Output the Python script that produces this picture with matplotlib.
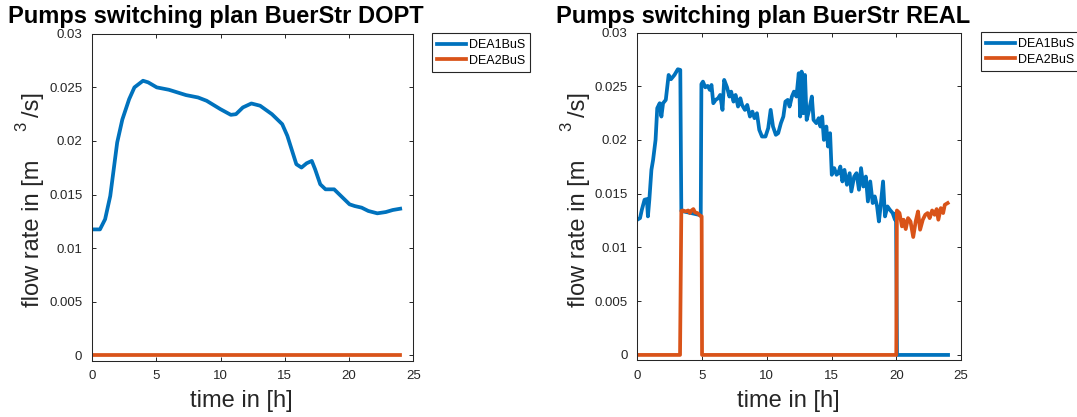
import matplotlib
matplotlib.use('Agg')
from matplotlib import pyplot as plt

plt.rcParams['font.family'] = ['Liberation Sans', 'DejaVu Sans']

W, H = 1077, 417
BLUE = '#0072BD'
ORANGE = '#D95319'
DARK = '#262626'

# optimised plan (DOPT)
t_dopt = [0, 0.62, 1.02, 1.42, 1.96, 2.36, 2.89, 3.3, 3.97, 4.37, 5.04, 5.98, 7.32,
          8.25, 8.92, 9.99, 10.8, 11.2, 11.74, 12.4, 13.08, 14.0, 14.8, 15.2, 15.9,
          16.3, 16.7, 17.1, 17.36, 17.76, 18.17, 18.84, 19.37, 20.04, 20.44, 20.98,
          21.5, 22.2, 22.86, 23.4, 23.98]
q1_dopt = [0.01175, 0.01175, 0.0127, 0.01487, 0.01986, 0.0220, 0.0239, 0.0250,
           0.02562, 0.02547, 0.0250, 0.02478, 0.02428, 0.02406, 0.02375, 0.02297,
           0.02244, 0.0225, 0.02313, 0.0235, 0.02329, 0.0225, 0.02157, 0.02048,
           0.01783, 0.01752, 0.01792, 0.01814, 0.01736, 0.01596, 0.01549, 0.01549,
           0.01487, 0.01409, 0.01393, 0.01378, 0.01347, 0.01325, 0.01337, 0.01356,
           0.01368]
t2_dopt = [0, 24]
q2_dopt = [0, 0]

# measured operation (REAL)
t1_real = [0, 0.21, 0.35, 0.56, 0.74, 0.82, 0.93, 1.09, 1.22, 1.41, 1.54, 1.73, 1.86,
           1.99, 2.2, 2.42, 2.6, 2.87, 3.13, 3.32, 3.4, 4.9, 4.95, 5.07, 5.25, 5.44,
           5.6, 5.73, 5.87, 6.05, 6.24, 6.4, 6.58, 6.71, 6.93, 7.11, 7.25, 7.43, 7.59,
           7.78, 7.96, 8.09, 8.31, 8.49, 8.7, 8.89, 9.05, 9.24, 9.42, 9.63, 9.9, 10.11,
           10.3, 10.48, 10.7, 10.88, 11.09, 11.28, 11.44, 11.62, 11.76, 11.94, 12.1,
           12.29, 12.47, 12.58, 12.69, 12.82, 12.95, 13.08, 13.27, 13.48, 13.61, 13.83,
           14.01, 14.14, 14.28, 14.41, 14.6, 14.73, 14.89, 15.02, 15.21, 15.39, 15.52,
           15.68, 15.84, 16.0, 16.19, 16.4, 16.53, 16.75, 16.93, 17.12, 17.28, 17.46,
           17.65, 17.81, 17.99, 18.18, 18.34, 18.52, 18.66, 18.79, 18.98, 19.13, 19.32,
           19.51, 19.72, 19.9, 19.98, 20.06, 24.0]
q1_real = [0.01258, 0.01273, 0.0135, 0.01444, 0.0145, 0.01289, 0.01444, 0.01722,
           0.01815, 0.02001, 0.02296, 0.02342, 0.02218, 0.02342, 0.02373, 0.02605,
           0.02565, 0.02605, 0.02658, 0.02652, 0.0134, 0.0130, 0.0252, 0.02543,
           0.0249, 0.02503, 0.02466, 0.02512, 0.02342, 0.02373, 0.02388, 0.02419,
           0.0228, 0.02559, 0.0249, 0.02404, 0.0245, 0.02357, 0.02419, 0.02311,
           0.02388, 0.02326, 0.0228, 0.02326, 0.02218, 0.02264, 0.02203, 0.02249,
           0.02094, 0.02032, 0.02032, 0.0211, 0.0228, 0.02125, 0.02048, 0.02063,
           0.02156, 0.02218, 0.02357, 0.02373, 0.02311, 0.02404, 0.0245, 0.02404,
           0.02621, 0.02218, 0.02636, 0.02249, 0.02605, 0.02187, 0.0228, 0.02404,
           0.02187, 0.02156, 0.02203, 0.02125, 0.02218, 0.02001, 0.02125, 0.01939,
           0.02063, 0.01676, 0.01738, 0.01676, 0.01691, 0.01753, 0.01614, 0.01722,
           0.01583, 0.01691, 0.01521, 0.0166, 0.01691, 0.01537, 0.01738, 0.01567,
           0.0166, 0.01428, 0.01614, 0.01413, 0.01475, 0.01382, 0.01242, 0.01382,
           0.01614, 0.01289, 0.01382, 0.0135, 0.0132, 0.01258, 0.0132, 0, 0]
t2_real = [0, 3.3, 3.4, 3.53, 3.74, 3.93, 4.06, 4.19, 4.33, 4.46, 4.64, 4.86, 4.97, 5.0,
           20.0, 20.05, 20.25, 20.44, 20.57, 20.73, 20.91, 21.1, 21.31, 21.5, 21.68,
           21.84, 22.05, 22.24, 22.42, 22.58, 22.77, 22.96, 23.12, 23.25, 23.44, 23.62,
           23.75, 23.97]
q2_real = [0, 0, 0.0134, 0.01344, 0.01335, 0.01344, 0.0132, 0.01344, 0.01357, 0.01326,
           0.0132, 0.01295, 0.0129, 0, 0, 0.01344, 0.0132, 0.01196, 0.01258, 0.01171,
           0.01273, 0.01242, 0.01097, 0.01242, 0.01335, 0.01165, 0.01258, 0.01304,
           0.0132, 0.01273, 0.01344, 0.01304, 0.01357, 0.01258, 0.01366, 0.0132,
           0.01397, 0.01413]

series_names = ['DEA1BuS', 'DEA2BuS']
y_ticks = [0, 0.005, 0.01, 0.015, 0.02, 0.025, 0.03]
y_ticklabels = ['0', '0.005', '0.01', '0.015', '0.02', '0.025', '0.03']
x_ticks = [0, 5, 10, 15, 20, 25]


def px(x, y):
    return x / W, y / H


def draw_panel(fig, rect, title, title_x, t1, q1, t2, q2, legend_xy):
    ax = fig.add_axes(rect)
    ax.plot(t1, q1, color=BLUE, lw=2.7, label=series_names[0])
    ax.plot(t2, q2, color=ORANGE, lw=2.7, label=series_names[1])
    ax.set_xlim(0, 25)
    ax.set_ylim(-0.0005, 0.03)
    ax.set_xticks(x_ticks)
    ax.set_yticks(y_ticks)
    ax.set_yticklabels(y_ticklabels)
    ax.tick_params(direction='in', top=True, right=True, length=3.2, width=0.7,
                   colors=DARK, labelsize=9.5, pad=7)
    for s in ax.spines.values():
        s.set_linewidth(0.75)
        s.set_color(DARK)

    leg = ax.legend(loc='upper left', bbox_to_anchor=px(*legend_xy),
                    bbox_transform=fig.transFigure, borderaxespad=0,
                    fontsize=9, handlelength=2.3, handletextpad=0.2,
                    labelspacing=0.3, borderpad=0.45, fancybox=False,
                    framealpha=1, edgecolor=DARK)
    leg.get_frame().set_linewidth(0.8)

    left = rect[0] * W
    width = rect[2] * W
    fig.text(*px(title_x, H - 23.3), title, fontsize=17, fontweight='bold',
             ha='left', va='baseline', color='black')
    fig.text(*px(left + width / 2 - 11, H - 406.7), 'time in [h]', fontsize=17,
             ha='center', va='baseline', color=DARK)
    # y label: "m" and "3/s]" are split, the 3 sits raised in between
    base = left - 52.7
    fig.text(*px(base, H - 306.7), 'flow rate in [m', fontsize=17, rotation=90,
             rotation_mode='anchor', ha='left', va='baseline', color=DARK)
    fig.text(*px(left - 65.5, H - 131.0), '3', fontsize=12, rotation=90,
             rotation_mode='anchor', ha='left', va='baseline', color=DARK)
    fig.text(*px(base, H - 116.7), '/s]', fontsize=17, rotation=90,
             rotation_mode='anchor', ha='left', va='baseline', color=DARK)
    return ax


fig = plt.figure(figsize=(W / 100, H / 100), dpi=100)

draw_panel(fig, [92 / W, (H - 360.7) / H, 321.3 / W, 326.9 / H],
           'Pumps switching plan BuerStr DOPT', 8.0,
           t_dopt, q1_dopt, t2_dopt, q2_dopt, (431.7, H - 33.3))
draw_panel(fig, [637.3 / W, (H - 360.3) / H, 323.7 / W, 327.8 / H],
           'Pumps switching plan BuerStr REAL', 556.0,
           t1_real, q1_real, t2_real, q2_real, (980.7, H - 32.3))

fig.savefig('out.png', dpi=100)
